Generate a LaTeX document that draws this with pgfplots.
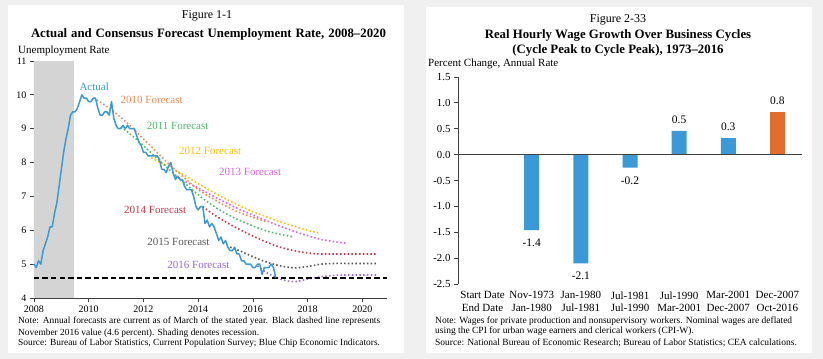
\documentclass[border=0pt]{standalone}
\usepackage{pgfplots}
\pgfplotsset{compat=1.18}
\usepackage{fontspec}
\setmainfont{Liberation Serif}
\definecolor{bg}{HTML}{F0F0F0}
\definecolor{axgray}{HTML}{404040}
\definecolor{actblue}{HTML}{3A9BD5}
\definecolor{fc10}{HTML}{F08C50}
\definecolor{fc11}{HTML}{4CBB6C}
\definecolor{fc12}{HTML}{FFC000}
\definecolor{fc13}{HTML}{E060E8}
\definecolor{fc14}{HTML}{C83A4A}
\definecolor{fc15}{HTML}{595959}
\definecolor{fc16}{HTML}{9B6BD0}
\definecolor{recess}{HTML}{D4D4D4}
\definecolor{barblue}{HTML}{3C99D8}
\definecolor{barorange}{HTML}{E36C2F}
\newcommand{\fs}[1]{\fontsize{#1}{#1}\selectfont}
\begin{document}
\begin{tikzpicture}[x=1pt,y=1pt]
\fill[bg] (0,0) rectangle (823,359);
\fill[white] (8,6) rectangle (404,354);
\fill[white] (426,6) rectangle (812,352);
% ---------------- Left panel ----------------
\node[font=\fs{12}] at (207,343) {Figure 1-1};
\node[font=\fs{12.8}\bfseries] at (208.5,325) {\makebox[355pt][s]{Actual and Consensus Forecast Unemployment Rate, 2008--2020}};
\node[font=\fs{11}, anchor=west, inner sep=0pt] at (18,308) {Unemployment Rate};
\begin{axis}[
  at={(34pt,61pt)}, anchor=south west,
  scale only axis, width=353pt, height=237pt,
  xmin=2008, xmax=2020.9, ymin=4, ymax=11,
  axis lines*=left,
  axis line style={axgray, line width=0.8pt},
  xtick={2008,2010,...,2020}, ytick={4,5,...,11},
  tick align=outside, major tick length=4pt,
  tick style={axgray, line width=0.8pt},
  xticklabel style={/pgf/number format/1000 sep={}},
  /pgf/number format/assume math mode=true,
  tick label style={font=\fs{10}},
  clip=false,
]
\addplot[fill=recess, draw=none] coordinates {(2008,4) (2009.46,4) (2009.46,11) (2008,11)} \closedcycle;
\pgfplotsset{fcst/.style={line width=1.6pt, dash pattern=on 1.5pt off 2.3pt, smooth, tension=0.5}}
\addplot[fcst, fc13] coordinates {(2013.17,7.6) (2013.5,7.45) (2014.0,7.25) (2014.5,7.03) (2015.0,6.82) (2015.5,6.62) (2016.0,6.45) (2016.5,6.28) (2017.0,6.12) (2017.5,5.97) (2018.0,5.84) (2018.5,5.73) (2019.0,5.66) (2019.4,5.62)};
\addplot[fcst, fc12] coordinates {(2012.17,8.2) (2012.5,8.05) (2013.0,7.85) (2013.5,7.62) (2014.0,7.38) (2014.5,7.15) (2015.0,6.93) (2015.5,6.73) (2016.0,6.55) (2016.5,6.4) (2017.0,6.25) (2017.5,6.12) (2018.0,6.0) (2018.4,5.92)};
\addplot[fcst, fc10] coordinates {(2010.17,9.9) (2010.5,9.75) (2011.0,9.45) (2011.5,9.1) (2012.0,8.7) (2012.5,8.3) (2013.0,7.9) (2013.5,7.55) (2014.0,7.2) (2014.5,6.95) (2015.0,6.72) (2015.5,6.53) (2016.0,6.38) (2016.5,6.25)};
\addplot[fcst, fc11] coordinates {(2011.17,9.05) (2011.5,8.85) (2012.0,8.5) (2012.5,8.12) (2013.0,7.75) (2013.5,7.4) (2014.0,7.05) (2014.5,6.75) (2015.0,6.5) (2015.5,6.3) (2016.0,6.13) (2016.5,5.98) (2017.0,5.88) (2017.5,5.8)};
\addplot[fcst, fc14] coordinates {(2014.17,6.7) (2014.5,6.5) (2015.0,6.25) (2015.5,6.03) (2016.0,5.83) (2016.5,5.65) (2017.0,5.5) (2017.5,5.4) (2018.0,5.33) (2018.5,5.3) (2019.0,5.3) (2019.5,5.3) (2020.0,5.3) (2020.5,5.3)};
\addplot[fcst, fc15] coordinates {(2015.17,5.5) (2015.5,5.4) (2016.0,5.22) (2016.5,5.06) (2017.0,4.95) (2017.5,4.89) (2018.0,4.93) (2018.5,5.0) (2019.0,5.02) (2019.5,5.02) (2020.0,5.02) (2020.5,5.02)};
\addplot[fcst, fc16] coordinates {(2016.17,4.95) (2016.5,4.75) (2017.0,4.56) (2017.5,4.48) (2018.0,4.56) (2018.5,4.63) (2019.0,4.67) (2019.5,4.68) (2020.0,4.68) (2020.5,4.68)};
\addplot[black, line width=2pt, dash pattern=on 5.5pt off 3pt] coordinates {(2008,4.6) (2020.9,4.6)};
\addplot[actblue, line width=1.5pt, line join=round] coordinates {
(2008.000,5.0) (2008.083,4.9) (2008.167,5.1) (2008.250,5.0) (2008.333,5.4) (2008.417,5.6) (2008.500,5.8) (2008.583,6.1) (2008.667,6.1) (2008.750,6.5) (2008.833,6.8) (2008.917,7.3)
(2009.000,7.8) (2009.083,8.3) (2009.167,8.7) (2009.250,9.0) (2009.333,9.4) (2009.417,9.5) (2009.500,9.5) (2009.583,9.6) (2009.667,9.8) (2009.750,10.0) (2009.833,9.9) (2009.917,9.9)
(2010.000,9.8) (2010.083,9.8) (2010.167,9.9) (2010.250,9.9) (2010.333,9.6) (2010.417,9.4) (2010.500,9.4) (2010.583,9.5) (2010.667,9.5) (2010.750,9.4) (2010.833,9.8) (2010.917,9.3)
(2011.000,9.1) (2011.083,9.0) (2011.167,9.0) (2011.250,9.1) (2011.333,9.0) (2011.417,9.1) (2011.500,9.0) (2011.583,9.0) (2011.667,9.0) (2011.750,8.8) (2011.833,8.6) (2011.917,8.5)
(2012.000,8.3) (2012.083,8.3) (2012.167,8.2) (2012.250,8.2) (2012.333,8.2) (2012.417,8.2) (2012.500,8.2) (2012.583,8.1) (2012.667,7.8) (2012.750,7.8) (2012.833,7.7) (2012.917,7.9)
(2013.000,8.0) (2013.083,7.7) (2013.167,7.5) (2013.250,7.6) (2013.333,7.5) (2013.417,7.5) (2013.500,7.3) (2013.583,7.2) (2013.667,7.2) (2013.750,7.2) (2013.833,7.0) (2013.917,6.7)
(2014.000,6.6) (2014.083,6.7) (2014.167,6.7) (2014.250,6.2) (2014.333,6.3) (2014.417,6.1) (2014.500,6.2) (2014.583,6.1) (2014.667,5.9) (2014.750,5.7) (2014.833,5.8) (2014.917,5.6)
(2015.000,5.7) (2015.083,5.5) (2015.167,5.4) (2015.250,5.4) (2015.333,5.5) (2015.417,5.3) (2015.500,5.3) (2015.583,5.1) (2015.667,5.1) (2015.750,5.0) (2015.833,5.0) (2015.917,5.0)
(2016.000,4.9) (2016.083,4.9) (2016.167,5.0) (2016.250,5.0) (2016.333,4.7) (2016.417,4.9) (2016.500,4.9) (2016.583,4.9) (2016.667,5.0) (2016.750,4.9) (2016.833,4.6)};
\node[font=\fs{11}, text=actblue] at (axis cs:2010.2,10.24) {Actual};
\node[font=\fs{11}, text=fc10] at (axis cs:2012.3,9.85) {2010 Forecast};
\node[font=\fs{11}, text=fc11] at (axis cs:2013.25,9.09) {2011 Forecast};
\node[font=\fs{11}, text=fc12] at (axis cs:2014.44,8.34) {2012 Forecast};
\node[font=\fs{11}, text=fc13] at (axis cs:2015.9,7.71) {2013 Forecast};
\node[font=\fs{11}, text=fc14] at (axis cs:2012.43,6.6) {2014 Forecast};
\node[font=\fs{11}, text=fc15] at (axis cs:2013.28,5.66) {2015 Forecast};
\node[font=\fs{11}, text=fc16] at (axis cs:2014.01,4.97) {2016 Forecast};
\end{axis}
\node[font=\fs{9.4}, anchor=west, inner sep=0pt] at (18,37.5) {\makebox[362pt][s]{Note: Annual forecasts are current as of March of the stated year. Black dashed line represents}};
\node[font=\fs{9.4}, anchor=west, inner sep=0pt] at (18,26.2) {November 2016 value (4.6 percent). Shading denotes recession.};
\node[font=\fs{9.4}, anchor=west, inner sep=0pt] at (18,15.7) {Source: Bureau of Labor Statistics, Current Population Survey; Blue Chip Economic Indicators.};
% ---------------- Right panel ----------------
\node[font=\fs{12}] at (618,339.5) {Figure 2-33};
\node[font=\fs{12.8}\bfseries] at (618,324) {Real Hourly Wage Growth Over Business Cycles};
\node[font=\fs{12.8}\bfseries] at (618,309) {(Cycle Peak to Cycle Peak), 1973--2016};
\node[font=\fs{11}, anchor=west, inner sep=0pt] at (428,295) {Percent Change, Annual Rate};
\begin{axis}[
  at={(458pt,75pt)}, anchor=south west,
  scale only axis, width=344pt, height=207pt,
  xmin=-0.5, xmax=6.5, ymin=-2.5, ymax=1.5,
  axis x line*=bottom, axis y line*=left,
  x axis line style={draw=none},
  y axis line style={axgray, line width=0.8pt},
  ytick={-2.5,-2,-1.5,-1,-0.5,0,0.5,1,1.5},
  yticklabels={-2.5,-2.0,-1.5,-1.0,-0.5,0.0,0.5,1.0,1.5},
  xtick={0,...,6},
  xticklabels={{Start Date\\End Date},{Nov-1973\\Jan-1980},{Jan-1980\\Jul-1981},{Jul-1981\\Jul-1990},{Jul-1990\\Mar-2001},{Mar-2001\\Dec-2007},{Dec-2007\\Oct-2016}},
  xticklabel style={align=center, font=\fontsize{11}{12.5}\selectfont},
  xtick style={draw=none},
  ytick style={axgray, line width=0.8pt},
  tick align=outside, major tick length=4pt,
  yticklabel style={font=\fs{10.8}},
  clip=false,
]
\addplot[ybar, bar width=15pt, bar shift=0pt, fill=barblue, draw=none,
  nodes near coords, point meta=explicit symbolic, nodes near coords align={below},
  every node near coord/.append style={font=\fs{11.5}, text=black, yshift=-5.5pt}]
  table[meta=lab] {
x y lab
1 -1.46 -1.4
2 -2.10 -2.1
3 -0.25 -0.2
};
\addplot[ybar, bar width=15pt, bar shift=0pt, fill=barblue, draw=none,
  nodes near coords, point meta=explicit symbolic, nodes near coords align={above},
  every node near coord/.append style={font=\fs{11.5}, text=black, yshift=3.5pt}]
  table[meta=lab] {
x y lab
4 0.46 0.5
5 0.32 0.3
};
\addplot[ybar, bar width=15pt, bar shift=0pt, fill=barorange, draw=none,
  nodes near coords, point meta=explicit symbolic, nodes near coords align={above},
  every node near coord/.append style={font=\fs{11.5}, text=black, yshift=3.5pt}]
  table[meta=lab] {
x y lab
6 0.83 0.8
};
\addplot[axgray, line width=0.8pt] coordinates {(-0.5,0) (6.5,0)};
\end{axis}
\node[font=\fs{9.5}, anchor=west, inner sep=0pt] at (435,38.3) {\makebox[357pt][s]{Note: Wages for private production and nonsupervisory workers. Nominal wages are deflated}};
\node[font=\fs{9.5}, anchor=west, inner sep=0pt] at (435,27.5) {using the CPI for urban wage earners and clerical workers (CPI-W).};
\node[font=\fs{9.5}, anchor=west, inner sep=0pt] at (435,16.3) {Source: National Bureau of Economic Research; Bureau of Labor Statistics; CEA calculations.};
\end{tikzpicture}
\end{document}
